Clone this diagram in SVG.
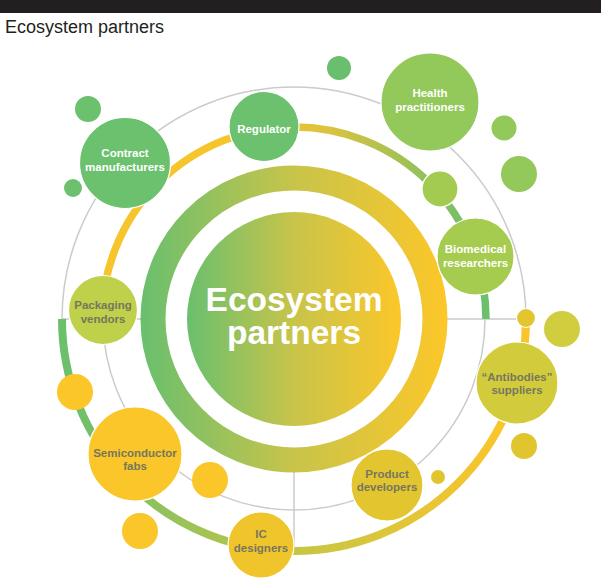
<svg xmlns="http://www.w3.org/2000/svg" width="601" height="578" viewBox="0 0 601 578">
<style>
.lbl{font-family:"Liberation Sans",Arial,sans-serif;font-weight:bold;font-size:11.5px;text-anchor:middle}
.w{fill:#ffffff}
.g{fill:#76775e}
.grey{fill:none;stroke:#cbcbcb;stroke-width:1.5}
.node{stroke:#ffffff;stroke-width:1.2}
.big{font-family:"Liberation Sans",Arial,sans-serif;font-weight:bold;font-size:33.5px;fill:#ffffff;text-anchor:middle}
</style>
<defs>
<linearGradient id="gCore" gradientUnits="userSpaceOnUse" x1="186" y1="0" x2="402" y2="0">
<stop offset="0" stop-color="#69bf6e"/><stop offset="0.5" stop-color="#c8c44a"/><stop offset="1" stop-color="#fcc729"/>
</linearGradient>
<linearGradient id="gRing" gradientUnits="userSpaceOnUse" x1="141" y1="0" x2="447" y2="0">
<stop offset="0" stop-color="#69bf6e"/><stop offset="0.5" stop-color="#c8c44a"/><stop offset="1" stop-color="#fcc729"/>
</linearGradient>
<linearGradient id="gTop" gradientUnits="userSpaceOnUse" x1="230" y1="0" x2="475" y2="0">
<stop offset="0" stop-color="#f6c52c"/><stop offset="0.4" stop-color="#dcc33e"/><stop offset="1" stop-color="#6cbf6b"/>
</linearGradient>
<linearGradient id="gBot" gradientUnits="userSpaceOnUse" x1="70" y1="0" x2="500" y2="0">
<stop offset="0" stop-color="#6cbf6b"/><stop offset="0.5" stop-color="#c3c647"/><stop offset="1" stop-color="#f9c52b"/>
</linearGradient>
</defs>
<rect x="0" y="0" width="601" height="578" fill="#ffffff"/>
<rect x="0" y="0" width="601" height="13" fill="#231f20"/>
<text x="5" y="33" font-family="Liberation Sans, Arial, sans-serif" font-size="18" fill="#231f20">Ecosystem partners</text>

<g id="connectors">
<circle class="grey" cx="294" cy="319" r="232"/>
<circle class="grey" cx="294" cy="319" r="191"/>
<line class="grey" x1="62" y1="319" x2="142" y2="319"/>
<line class="grey" x1="446" y1="319" x2="526" y2="319"/>
<line class="grey" x1="294" y1="471" x2="294" y2="551"/>
<path d="M 102 319 A 192 192 0 0 1 486 319" fill="none" stroke="url(#gTop)" stroke-width="7.5"/>
<path d="M 62 319 A 232 232 0 0 0 526 319" fill="none" stroke="url(#gBot)" stroke-width="8"/>
</g>

<g id="core">
<circle cx="294" cy="319" r="141" fill="none" stroke="url(#gRing)" stroke-width="25"/>
<circle cx="294" cy="319" r="107" fill="url(#gCore)"/>
<text class="big" x="294" y="311">Ecosystem</text>
<text class="big" x="294" y="344">partners</text>
</g>

<g id="dots">
<circle cx="88" cy="109" r="13" fill="#6cc16e"/>
<circle cx="73" cy="188" r="9" fill="#6cc16e"/>
<circle cx="339" cy="68" r="12" fill="#6abf6e"/>
<circle cx="504" cy="128" r="12.5" fill="#93c85a"/>
<circle cx="519" cy="174" r="18" fill="#93c85a"/>
<circle class="node" cx="440" cy="189" r="18" fill="#a3cb51"/>
<circle class="node" cx="526" cy="318" r="9.5" fill="#e3c530"/>
<circle cx="562" cy="329" r="18" fill="#d0cd3e"/>
<circle cx="524" cy="446" r="13" fill="#e1c52f"/>
<circle cx="438" cy="477" r="7" fill="#e1c52f"/>
<circle cx="75" cy="392" r="18" fill="#fbc629"/>
<circle cx="210" cy="480" r="18" fill="#fbc629"/>
<circle cx="140" cy="531" r="18" fill="#fbc629"/>
</g>

<g id="contract-manufacturers">
<circle class="node" cx="125" cy="163" r="45.5" fill="#6cc16e"/>
<text class="lbl w" x="125" y="157">Contract</text>
<text class="lbl w" x="125" y="171">manufacturers</text>
</g>
<g id="regulator">
<circle class="node" cx="264" cy="126.5" r="35" fill="#6cc16e"/>
<text class="lbl w" x="264" y="133">Regulator</text>
</g>
<g id="health-practitioners">
<circle class="node" cx="430" cy="102" r="49" fill="#93c85a"/>
<text class="lbl w" x="430" y="97">Health</text>
<text class="lbl w" x="430" y="111">practitioners</text>
</g>
<g id="biomedical-researchers">
<circle class="node" cx="475.5" cy="256.5" r="38.5" fill="#a5cc4f"/>
<text class="lbl w" x="475.5" y="253">Biomedical</text>
<text class="lbl w" x="475.5" y="267">researchers</text>
</g>
<g id="packaging-vendors">
<circle class="node" cx="103" cy="310" r="34.5" fill="#bfd04a"/>
<text class="lbl g" x="103" y="309">Packaging</text>
<text class="lbl g" x="103" y="323">vendors</text>
</g>
<g id="antibodies-suppliers">
<circle class="node" cx="517" cy="383" r="41" fill="#d2cc3c"/>
<text class="lbl g" x="517" y="381">“Antibodies”</text>
<text class="lbl g" x="517" y="394">suppliers</text>
</g>
<g id="product-developers">
<circle class="node" cx="387" cy="485" r="36" fill="#e2c52f"/>
<text class="lbl g" x="387" y="478">Product</text>
<text class="lbl g" x="387" y="491">developers</text>
</g>
<g id="ic-designers">
<circle class="node" cx="261" cy="545" r="33" fill="#f0c52c"/>
<text class="lbl g" x="261" y="538">IC</text>
<text class="lbl g" x="261" y="552">designers</text>
</g>
<g id="semiconductor-fabs">
<circle class="node" cx="135" cy="454" r="47" fill="#fbc629"/>
<text class="lbl g" x="135" y="457">Semiconductor</text>
<text class="lbl g" x="135" y="470">fabs</text>
</g>
</svg>
